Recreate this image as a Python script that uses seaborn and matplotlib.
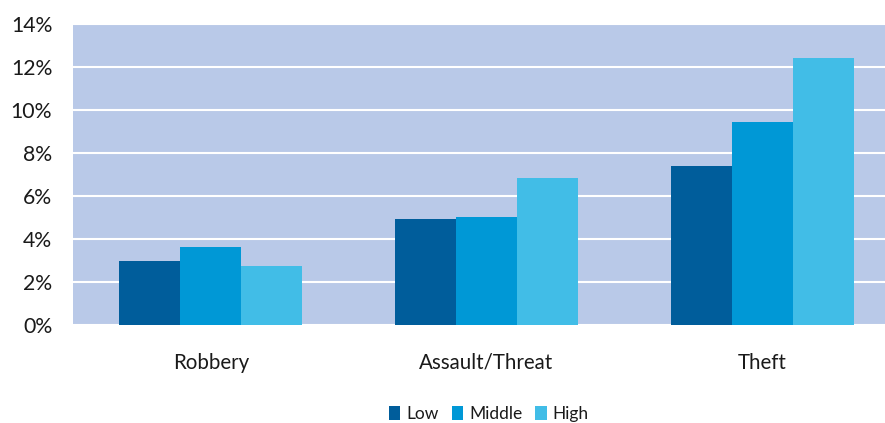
import matplotlib
matplotlib.use("Agg")
import matplotlib.pyplot as plt
import seaborn as sns
import pandas as pd
from matplotlib.patches import Patch
from matplotlib.ticker import FuncFormatter

categories = ["Robbery", "Assault/Threat", "Theft"]
levels = ["Low", "Middle", "High"]
low = [3.0, 4.95, 7.38]
middle = [3.65, 5.03, 9.43]
high = [2.73, 6.82, 12.4]
colors = ["#005d9b", "#0098d6", "#41bde7"]

rows = []
for i, c in enumerate(categories):
    for lev, vals in zip(levels, [low, middle, high]):
        rows.append({"cat": c, "level": lev, "val": vals[i]})
df = pd.DataFrame(rows)

sns.set_style("white")
plt.rcParams["font.family"] = ["Lato", "DejaVu Sans"]

fig = plt.figure(figsize=(8.85, 4.23), dpi=100)
W, H = 885, 423
left, right, top, bottom = 73, 900, 24, 325
ax = fig.add_axes([left / W, 1 - bottom / H, (right - left) / W, (bottom - top) / H])

sns.barplot(data=df, x="cat", y="val", hue="level", hue_order=levels,
            palette=colors, saturation=1, width=0.663, gap=0, ax=ax,
            legend=False, linewidth=0, zorder=3)

ax.set_facecolor("#b9c9e8")
ax.set_ylim(0, 14)
ax.set_xlim(-0.5, 2.5)
ax.set_yticks(range(0, 15, 2))
ax.yaxis.set_major_formatter(FuncFormatter(lambda v, p: f"{int(v)}%"))
ax.grid(axis="y", color="white", linewidth=1.5, zorder=1)
ax.set_axisbelow(True)
for s in ax.spines.values():
    s.set_visible(False)
ax.set_xlabel("")
ax.set_ylabel("")
ax.tick_params(axis="y", length=0, pad=15, labelsize=15.3, labelcolor="#1a1a1a")
ax.tick_params(axis="x", length=0, pad=20, labelsize=14.8, labelcolor="#1a1a1a")

handles = [Patch(facecolor=c, edgecolor="none", label=l) for c, l in zip(colors, levels)]
fig.legend(handles=handles, loc="center", bbox_to_anchor=(489 / W, 1 - 414 / H),
           ncol=3, frameon=False, fontsize=12.5, handlelength=0.65, handleheight=0.9,
           handletextpad=0.35, columnspacing=0.75, labelcolor="#1a1a1a")

fig.savefig("out.png", dpi=100)
